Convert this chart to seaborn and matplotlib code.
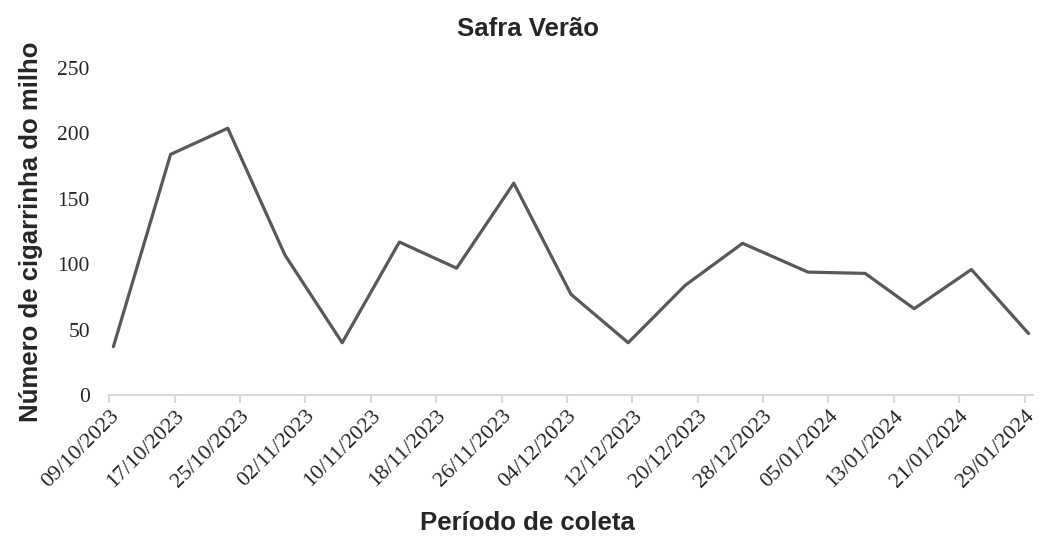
import pandas as pd
import numpy as np
import matplotlib.pyplot as plt
import seaborn as sns

# Dados (datas de coleta e número de cigarrinhas)
datas_coleta = ['09/10/2023', '16/10/2023', '23/10/2023', '30/10/2023', '06/11/2023',
                '13/11/2023', '20/11/2023', '27/11/2023', '04/12/2023', '11/12/2023',
                '18/12/2023', '25/12/2023', '02/01/2024', '09/01/2024', '15/01/2024',
                '22/01/2024', '29/01/2024']
n_cigarrinhas = [37, 184, 204, 107, 40, 117, 97, 162, 77, 40,
                 84, 116, 94, 93, 66, 96, 47]
y_ticks = [0, 50, 100, 150, 200, 250]

df = pd.DataFrame({
    'data': pd.to_datetime(datas_coleta, format='%d/%m/%Y') + pd.Timedelta(hours=12),
    'n': n_cigarrinhas,
})

sns.set_theme(style='white')
plt.rcParams['font.family'] = ['Liberation Sans', 'DejaVu Sans']

fig, ax = plt.subplots(figsize=(10.41, 5.36), dpi=100)
fig.subplots_adjust(left=0.105, right=0.992, top=0.873, bottom=0.263)

sns.lineplot(data=df, x='data', y='n', ax=ax, color='#595959', linewidth=2.3)

inicio = pd.Timestamp('2023-10-09')
fim = pd.Timestamp('2024-01-30')
ax.set_xlim(inicio, fim)
ax.set_ylim(0, 250)

x_ticks = pd.date_range(inicio, '2024-01-29', freq='8D')
ax.set_xticks(x_ticks)
ax.set_xticklabels([d.strftime('%d/%m/%Y') for d in x_ticks], rotation=45,
                   ha='right', rotation_mode='anchor', fontsize=16,
                   family='Liberation Serif')
ax.set_yticks(y_ticks)
ax.set_yticklabels([str(v) for v in y_ticks], fontsize=15.5, family='Liberation Serif')

for lado in ['top', 'right', 'left']:
    ax.spines[lado].set_visible(False)
ax.spines['bottom'].set_color('#d9d9d9')
ax.spines['bottom'].set_linewidth(1.5)
ax.tick_params(axis='x', bottom=True, length=6, width=1.5, color='#d9d9d9', pad=2)
ax.tick_params(axis='y', left=False, pad=8)
ax.grid(False)

# título e rótulo do eixo x centralizados na figura (como no Excel)
fig.text(0.507, 0.945, 'Safra Verão', fontsize=18.5, fontweight='bold',
         ha='center', va='center')
ax.set_xlabel('')
fig.text(0.507, 0.024, 'Período de coleta', fontsize=18.5, fontweight='bold',
         ha='center', va='center')
ax.set_ylabel('Número de cigarrinha do milho', fontsize=18.5, fontweight='bold', labelpad=10)

fig.savefig('out.png', dpi=100, facecolor='white')
